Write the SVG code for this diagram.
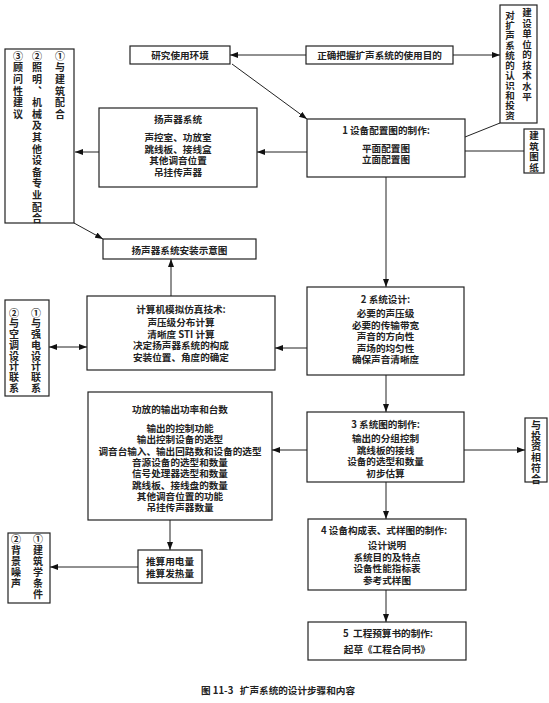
<svg xmlns="http://www.w3.org/2000/svg" width="549" height="703" viewBox="0 0 549 703">
<defs>
<marker id="ah" markerUnits="userSpaceOnUse" markerWidth="8" markerHeight="6" refX="8" refY="3" orient="auto-start-reverse">
<path d="M0,0 L8,3 L0,6 z" fill="#111"/>
</marker>
<style>
.box{fill:#fff;stroke:#222;stroke-width:1.2}
.t{font-family:"Noto Sans CJK SC","Noto Sans CJK JP",sans-serif;font-size:9.6px;font-weight:700;fill:#222;text-anchor:middle;dominant-baseline:central}
.v{font-family:"Noto Sans CJK SC","Noto Sans CJK JP",sans-serif;font-size:10px;font-weight:700;fill:#222;text-anchor:start;dominant-baseline:central;writing-mode:vertical-rl}
.c{fill:none;stroke:#222;stroke-width:1}
.a{fill:none;stroke:#222;stroke-width:1;marker-end:url(#ah)}
</style>
</defs>
<rect width="549" height="703" fill="#fff"/>

<g id="connectors">
<line class="a" x1="306" y1="55" x2="230" y2="55"/>
<line class="a" x1="453" y1="55" x2="500" y2="55"/>
<line class="a" x1="232" y1="64" x2="307" y2="119"/>
<line class="c" x1="500" y1="123" x2="465" y2="137"/>
<line class="c" x1="524" y1="151" x2="465" y2="151"/>
<line class="a" x1="307" y1="152" x2="257" y2="152"/>
<line class="a" x1="99" y1="152" x2="75" y2="152"/>
<line class="a" x1="74" y1="223" x2="103" y2="239"/>
<line class="a" x1="386" y1="177" x2="386" y2="287"/>
<line class="a" x1="307" y1="348" x2="275" y2="348"/>
<line class="a" x1="171" y1="296" x2="171" y2="259"/>
<line class="a" x1="87" y1="347" x2="49" y2="347" style="marker-start:url(#ah)"/>
<line class="a" x1="386" y1="375" x2="386" y2="412"/>
<line class="a" x1="307" y1="450" x2="272" y2="450"/>
<line class="a" x1="464" y1="450" x2="525" y2="450"/>
<line class="a" x1="170" y1="520" x2="170" y2="550"/>
<line class="a" x1="138" y1="567" x2="50" y2="567"/>
<line class="a" x1="386" y1="482" x2="386" y2="519"/>
<line class="a" x1="386" y1="590" x2="386" y2="622"/>
</g>

<g id="left1">
<rect class="box" x="5" y="49" width="69" height="174"/>
<text class="v" x="18" y="51" style="letter-spacing:1.6px">③顾问性建议</text>
<text class="v" x="37" y="51" style="letter-spacing:1.6px">②照明、机械及其他设备专业配合</text>
<text class="v" x="60" y="51" style="letter-spacing:1.6px">①与建筑配合</text>
</g>

<g id="env">
<rect class="box" x="130" y="46" width="100" height="18"/>
<text class="t" x="180" y="55">研究使用环境</text>
</g>

<g id="purpose">
<rect class="box" x="306" y="46" width="147" height="18"/>
<text class="t" x="379.5" y="55">正确把握扩声系统的使用目的</text>
</g>

<g id="client">
<rect class="box" x="500" y="5" width="37" height="118"/>
<text class="v" x="527" y="8" style="font-size:9.5px;letter-spacing:1px">建设单位的技术水平</text>
<text class="v" x="510" y="11" style="font-size:9.5px;letter-spacing:0.5px">对扩声系统的认识和投资</text>
</g>

<g id="drawings">
<rect class="box" x="524" y="129" width="20" height="44"/>
<text class="v" x="534" y="131" style="font-size:9.5px;letter-spacing:1px">建筑图纸</text>
</g>

<g id="speaker">
<rect class="box" x="99" y="108" width="158" height="79"/>
<text class="t"><tspan x="178" y="119">扬声器系统</tspan><tspan x="178" y="137">声控室、功放室</tspan><tspan x="178" y="148.5">跳线板、接线盒</tspan><tspan x="178" y="160">其他调音位置</tspan><tspan x="178" y="171.5">吊挂传声器</tspan></text>
</g>

<g id="step1">
<rect class="box" x="307" y="119" width="158" height="58"/>
<text class="t"><tspan x="386" y="130">1 设备配置图的制作:</tspan><tspan x="386" y="148">平面配置图</tspan><tspan x="386" y="159">立面配置图</tspan></text>
</g>

<g id="install">
<rect class="box" x="103" y="239" width="153" height="20"/>
<text class="t" x="179.5" y="249.5">扬声器系统安装示意图</text>
</g>

<g id="sim">
<rect class="box" x="87" y="296" width="188" height="74"/>
<text class="t"><tspan x="181" y="309">计算机模拟仿真技术:</tspan><tspan x="181" y="322">声压级分布计算</tspan><tspan x="181" y="333.5">清晰度 STI 计算</tspan><tspan x="181" y="345">决定扬声器系统的构成</tspan><tspan x="181" y="356.5">安装位置、角度的确定</tspan></text>
</g>

<g id="left2">
<rect class="box" x="5" y="300" width="44" height="96"/>
<text class="v" x="14" y="308" style="letter-spacing:0.7px">②与空调设计联系</text>
<text class="v" x="36" y="308" style="letter-spacing:0.7px">①与强电设计联系</text>
</g>

<g id="step2">
<rect class="box" x="307" y="287" width="157" height="88"/>
<text class="t"><tspan x="385.5" y="299">2 系统设计:</tspan><tspan x="385.5" y="313">必要的声压级</tspan><tspan x="385.5" y="324.5">必要的传输带宽</tspan><tspan x="385.5" y="336">声音的方向性</tspan><tspan x="385.5" y="347.5">声场的均匀性</tspan><tspan x="385.5" y="359">确保声音清晰度</tspan></text>
</g>

<g id="power">
<rect class="box" x="88" y="392" width="184" height="128"/>
<text class="t"><tspan x="180" y="409">功放的输出功率和台数</tspan><tspan x="180" y="428">输出的控制功能</tspan><tspan x="180" y="439.3">输出控制设备的选型</tspan><tspan x="180" y="450.6">调音台输入、输出回路数和设备的选型</tspan><tspan x="180" y="462">音源设备的选型和数量</tspan><tspan x="180" y="473.3">信号处理器选型和数量</tspan><tspan x="180" y="484.6">跳线板、接线盘的数量</tspan><tspan x="180" y="496">其他调音位置的功能</tspan><tspan x="180" y="507.3">吊挂传声器数量</tspan></text>
</g>

<g id="step3">
<rect class="box" x="307" y="412" width="157" height="70"/>
<text class="t"><tspan x="385.5" y="424">3 系统图的制作:</tspan><tspan x="385.5" y="438">输出的分组控制</tspan><tspan x="385.5" y="449.5">跳线板的接线</tspan><tspan x="385.5" y="461">设备的选型和数量</tspan><tspan x="385.5" y="472.5">初步估算</tspan></text>
</g>

<g id="budget">
<rect class="box" x="525" y="418" width="22" height="64"/>
<text class="v" x="536" y="420" style="letter-spacing:0.8px">与投资相符合</text>
</g>

<g id="estimate">
<rect class="box" x="138" y="550" width="64" height="33"/>
<text class="t"><tspan x="170" y="561">推算用电量</tspan><tspan x="170" y="573">推算发热量</tspan></text>
</g>

<g id="left3">
<rect class="box" x="8" y="533" width="42" height="70"/>
<text class="v" x="16" y="534" style="letter-spacing:1px">②背景噪声</text>
<text class="v" x="38" y="534" style="letter-spacing:1px">①建筑学条件</text>
</g>

<g id="step4">
<rect class="box" x="308" y="519" width="158" height="71"/>
<text class="t"><tspan x="384" y="530">4 设备构成表、式样图的制作:</tspan><tspan x="387" y="545">设计说明</tspan><tspan x="387" y="556.5">系统目的及特点</tspan><tspan x="387" y="568">设备性能指标表</tspan><tspan x="387" y="579.5">参考式样图</tspan></text>
</g>

<g id="step5">
<rect class="box" x="308" y="622" width="158" height="38"/>
<text class="t" xml:space="preserve"><tspan x="388" y="633">5  工程预算书的制作:</tspan><tspan x="387" y="649">起草《工程合同书》</tspan></text>
</g>

<text class="t" x="278" y="690" xml:space="preserve">图 11-3   扩声系统的设计步骤和内容</text>
</svg>
